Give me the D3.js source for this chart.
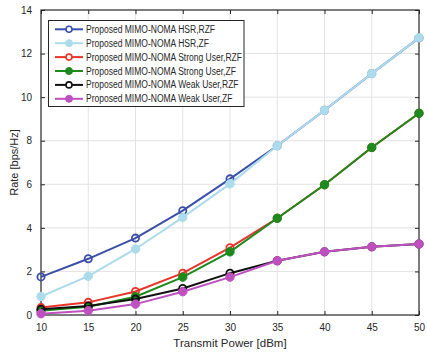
<!DOCTYPE html>
<html>
	<head>
		<style>
			body, html { margin: 0; padding: 0; background: #fff; }
			text { font-family: "Liberation Sans", Arial, sans-serif; fill: #262626; }
			.grid line { stroke: #e3e3e3; stroke-width: 1px; }
			.line { fill: none; stroke-width: 2px; }
		</style>
	</head>
	<body>
		<svg id="svg" width="427" height="353"></svg>

		<script src="https://cdn.jsdelivr.net/npm/d3@7"></script>
		<script>
			// Transmit power (dBm)
			const power = [10, 15, 20, 25, 30, 35, 40, 45, 50]

			// rates
			const hsrRzf = [1.75, 2.58, 3.53, 4.79, 6.25, 7.77, 9.4, 11.08, 12.72]
			const hsrZf = [0.85, 1.78, 3.03, 4.48, 6.02, 7.77, 9.4, 11.08, 12.72]
			const strongRzf = [0.34, 0.58, 1.08, 1.92, 3.09, 4.44, 5.98, 7.69, 9.26]
			const strongZf = [0.2, 0.38, 0.84, 1.74, 2.9, 4.44, 5.98, 7.69, 9.26]
			const weakRzf = [0.26, 0.41, 0.73, 1.22, 1.92, 2.49, 2.9, 3.13, 3.26]
			const weakZf = [0.06, 0.2, 0.5, 1.07, 1.74, 2.49, 2.9, 3.13, 3.26]

			const names = [
				'Proposed MIMO-NOMA HSR,RZF',
				'Proposed MIMO-NOMA HSR,ZF',
				'Proposed MIMO-NOMA Strong User,RZF',
				'Proposed MIMO-NOMA Strong User,ZF',
				'Proposed MIMO-NOMA Weak User,RZF',
				'Proposed MIMO-NOMA Weak User,ZF'
			]
			const colors = ['#3a4fa8', '#acdcec', '#e8342a', '#1c8a1c', '#111111', '#bf50bf']
			const hollow = [true, false, true, false, true, false]
			const seriesValues = [hsrRzf, hsrZf, strongRzf, strongZf, weakRzf, weakZf]

			const xTicks = [10, 15, 20, 25, 30, 35, 40, 45, 50]
			const yTicks = [0, 2, 4, 6, 8, 10, 12, 14]

			const series = names.map((name, i) => ({
				name, color: colors[i], hollow: hollow[i],
				points: power.map((p, j) => ({ x: p, y: seriesValues[i][j] }))
			}))

			// plot box (window.top is taken, so prefix these)
			const pLeft = 41, pRight = 419, pTop = 10, pBottom = 315

			const x = d3.scaleLinear().domain([10, 50]).range([pLeft, pRight])
			const y = d3.scaleLinear().domain([0, 14]).range([pBottom, pTop])

			const svg = d3.select('#svg')

			// grid
			const grid = svg.append('g').attr('class', 'grid')
			grid.selectAll('.gx').data(xTicks.slice(1, -1)).enter().append('line')
				.attr('x1', d => x(d)).attr('x2', d => x(d))
				.attr('y1', pTop).attr('y2', pBottom)
			grid.selectAll('.gy').data(yTicks.slice(1, -1)).enter().append('line')
				.attr('x1', pLeft).attr('x2', pRight)
				.attr('y1', d => y(d)).attr('y2', d => y(d))

			// axes, ticks pointing inward like matlab
			const axisStyle = g => {
				g.select('.domain').remove()
				g.selectAll('line').attr('stroke', '#262626')
				g.selectAll('text').style('font-size', '10px').attr('fill', '#262626')
			}
			svg.append('g').attr('transform', `translate(0,${pBottom})`)
				.call(d3.axisBottom(x).tickValues(xTicks).tickSizeInner(-4).tickSizeOuter(0).tickPadding(9))
				.call(axisStyle)
			svg.append('g').attr('transform', `translate(${pLeft},0)`)
				.call(d3.axisLeft(y).tickValues(yTicks).tickSizeInner(-4).tickSizeOuter(0).tickPadding(9))
				.call(axisStyle)
			svg.append('g').attr('transform', `translate(0,${pTop})`)
				.call(d3.axisTop(x).tickValues(xTicks).tickSizeInner(-4).tickSizeOuter(0).tickFormat(''))
				.call(axisStyle)
			svg.append('g').attr('transform', `translate(${pRight},0)`)
				.call(d3.axisRight(y).tickValues(yTicks).tickSizeInner(-4).tickSizeOuter(0).tickFormat(''))
				.call(axisStyle)

			svg.append('rect')
				.attr('x', pLeft).attr('y', pTop)
				.attr('width', pRight - pLeft).attr('height', pBottom - pTop)
				.attr('fill', 'none').attr('stroke', '#262626').attr('stroke-width', 1.2)

			// lines + markers
			const line = d3.line().x(d => x(d.x)).y(d => y(d.y))
			const sg = svg.selectAll('.series').data(series).enter().append('g')
			sg.append('path').attr('class', 'line')
				.attr('stroke', d => d.color)
				.attr('d', d => line(d.points))
			sg.each(function(s) {
				d3.select(this).selectAll('circle').data(s.points).enter().append('circle')
					.attr('cx', d => x(d.x)).attr('cy', d => y(d.y))
					.attr('r', s.hollow ? 3.6 : 4.2)
					.attr('fill', s.hollow ? 'none' : s.color)
					.attr('stroke', s.color)
					.attr('stroke-width', s.hollow ? 1.8 : 1)
			})

			// labels
			svg.append('text')
				.attr('x', (pLeft + pRight) / 2).attr('y', 347)
				.attr('text-anchor', 'middle').style('font-size', '11.5px')
				.text('Transmit Power [dBm]')
			svg.append('text')
				.attr('transform', `translate(18,${(pTop + pBottom) / 2}) rotate(-90)`)
				.attr('text-anchor', 'middle').style('font-size', '11px')
				.text('Rate [bps/Hz]')

			// legend
			const lg = svg.append('g')
			lg.append('rect')
				.attr('x', 48.5).attr('y', 20.5).attr('width', 195.5).attr('height', 86)
				.attr('fill', '#fff').attr('stroke', '#262626').attr('stroke-width', 1)
			const item = lg.selectAll('.item').data(series).enter().append('g')
				.attr('transform', (d, i) => `translate(0,${29.3 + i * 13.9})`)
			item.append('line')
				.attr('x1', 55).attr('x2', 83)
				.attr('stroke', d => d.color).attr('stroke-width', 2)
			item.append('circle')
				.attr('cx', 69).attr('r', d => d.hollow ? 3 : 3.5)
				.attr('fill', d => d.hollow ? '#fff' : d.color)
				.attr('stroke', d => d.color).attr('stroke-width', d => d.hollow ? 1.6 : 1)
			const labels = item.append('text')
				.attr('x', 86).attr('dy', '0.35em')
				.style('font-size', '10px')
				.text(d => d.name)
			// squeeze the text so the longest entry ends near x=242 like the original
			let longest = 0
			labels.each(function() { longest = Math.max(longest, this.getComputedTextLength()) })
			const squeeze = 156 / longest
			labels.each(function() {
				d3.select(this)
					.attr('textLength', this.getComputedTextLength() * squeeze)
					.attr('lengthAdjust', 'spacingAndGlyphs')
			})
		</script>
	</body>
</html>
